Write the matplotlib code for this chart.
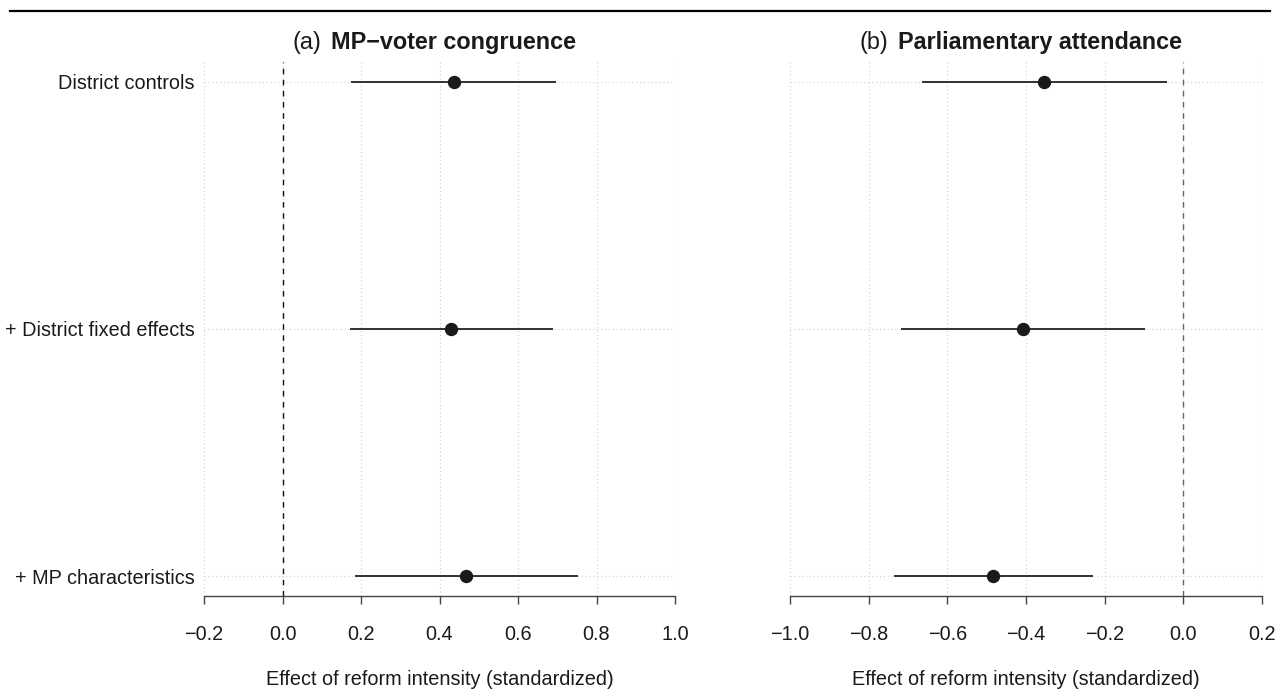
import matplotlib
matplotlib.use("Agg")
import matplotlib.pyplot as plt
from matplotlib.lines import Line2D

plt.rcParams['font.family'] = ['Liberation Sans', 'DejaVu Sans']

models = ["District controls", "+ District fixed effects", "+ MP characteristics"]

# panel (a): MP-voter congruence
cong_est = [0.436, 0.430, 0.468]
cong_lo = [0.174, 0.173, 0.184]
cong_hi = [0.698, 0.689, 0.752]

# panel (b): parliamentary attendance
att_est = [-0.353, -0.408, -0.483]
att_lo = [-0.665, -0.719, -0.736]
att_hi = [-0.041, -0.097, -0.230]

cong_ticks = [-0.2, 0.0, 0.2, 0.4, 0.6, 0.8, 1.0]
att_ticks = [-1.0, -0.8, -0.6, -0.4, -0.2, 0.0, 0.2]

W, H = 1284, 694
fig = plt.figure(figsize=(W / 100, H / 100), dpi=100)

TXT = "#1a1a1a"
FS = 14.3


def px_box(x0, x1, y_top, y_bot):
    return [x0 / W, 1 - y_bot / H, (x1 - x0) / W, (y_bot - y_top) / H]


ax1 = fig.add_axes(px_box(204, 675, 62, 596))
ax2 = fig.add_axes(px_box(790, 1262, 62, 596))

ypos = [3, 2, 1]


def draw_panel(ax, est, lo, hi, ticks, zero_color, show_labels):
    ax.set_xlim(ticks[0], ticks[-1])
    ax.set_ylim(0.92, 3.08)
    # dotted grid
    for t in ticks:
        ax.axvline(t, color="#cfcfcf", lw=0.8, ls=(0, (1, 2.5)), zorder=0)
    for y in ypos:
        ax.axhline(y, color="#cfcfcf", lw=0.8, ls=(0, (1, 2.5)), zorder=0)
    ax.axvline(0, color=zero_color, lw=1.0, ls=(0, (4, 4)), zorder=1)
    ax.hlines(ypos, lo, hi, color="#1a1a1a", lw=1.25, zorder=2)
    ax.plot(est, ypos, "o", color="#1a1a1a", ms=8.6, zorder=3)

    for s in ["top", "right", "left"]:
        ax.spines[s].set_visible(False)
    ax.spines["bottom"].set_color("#444444")
    ax.spines["bottom"].set_linewidth(1.0)
    ax.set_xticks(ticks)
    ax.set_xticklabels([f"{t:.1f}".replace("-", "\u2212") for t in ticks])
    ax.tick_params(axis="x", direction="out", length=5.5, width=1.0,
                   color="#444444", labelsize=FS, labelcolor=TXT, pad=15.5)
    ax.set_yticks(ypos)
    if show_labels:
        ax.set_yticklabels(models)
    else:
        ax.set_yticklabels([])
    ax.tick_params(axis="y", length=0, labelsize=FS, labelcolor=TXT, pad=7)
    ax.set_xlabel("Effect of reform intensity (standardized)", fontsize=FS,
                  color=TXT, labelpad=18.5)


draw_panel(ax1, cong_est, cong_lo, cong_hi, cong_ticks, "#111111", True)
draw_panel(ax2, att_est, att_lo, att_hi, att_ticks, "#666666", False)

# rule across the top of the figure
fig.add_artist(Line2D([10 / W, 1270 / W], [1 - 11 / H, 1 - 11 / H],
                      color="black", lw=1.6))

# titles: regular tag followed by bold name, centred over each panel
renderer = fig.canvas.get_renderer()


def panel_title(ax, tag, name, shift=-5.5):
    bb = ax.get_position()
    cx = (bb.x0 + bb.x1) / 2 * W + shift
    ybase = 1 - 49 / H
    t1 = fig.text(0, ybase, tag, fontsize=16.8, color=TXT, va="baseline")
    t2 = fig.text(0, ybase, name, fontsize=16.8, fontweight="bold", color=TXT,
                  va="baseline")
    w1 = t1.get_window_extent(renderer).width
    w2 = t2.get_window_extent(renderer).width
    gap = 10
    left = cx - (w1 + gap + w2) / 2
    t1.set_x(left / W)
    t2.set_x((left + w1 + gap) / W)


panel_title(ax1, "(a)", "MP\u2212voter congruence")
panel_title(ax2, "(b)", "Parliamentary attendance")

fig.savefig("out.png", dpi=100)
